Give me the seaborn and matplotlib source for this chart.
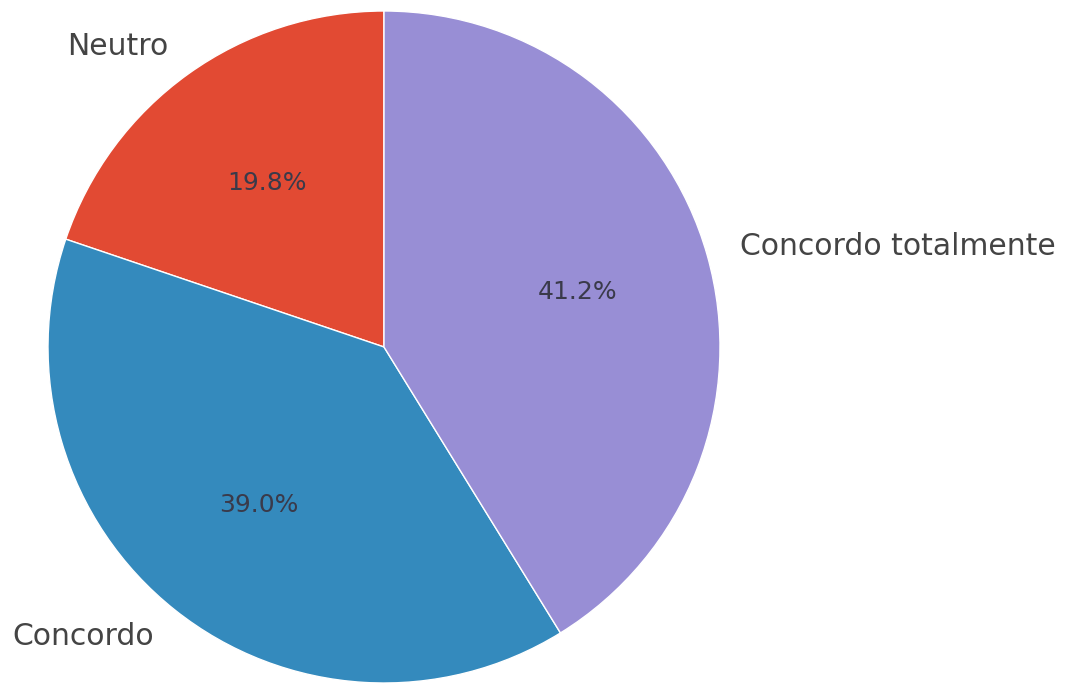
import matplotlib
matplotlib.use("Agg")
import matplotlib.pyplot as plt
import seaborn as sns

# Dados do gráfico
categorias = ["Neutro", "Concordo", "Concordo totalmente"]
percentuais = [19.8, 39.0, 41.2]
cores = ["#E24A33", "#348ABD", "#988ED5"]

sns.set_style("white")
plt.rcParams['font.family'] = ['DejaVu Sans']

fig = plt.figure(figsize=(10.72, 6.84), dpi=100)
# eixo posicionado para que o círculo fique à esquerda, como na referência
ax = fig.add_axes([(384 - 336) / 1072, (684 - 347 - 336) / 684, 672 / 1072, 672 / 684])

wedges, textos, autotextos = ax.pie(
    percentuais,
    labels=categorias,
    colors=cores,
    autopct='%1.1f%%',
    startangle=90,
    labeldistance=1.1,
    pctdistance=0.6,
    textprops={'fontsize': 21.5, 'color': '#444444'},
)
for t in autotextos:
    t.set_fontsize(18)
    t.set_color('#3a3a4a')

ax.set_xlim(-1, 1)
ax.set_ylim(-1, 1)
ax.set_aspect('equal')

fig.savefig("out.png", dpi=100)
